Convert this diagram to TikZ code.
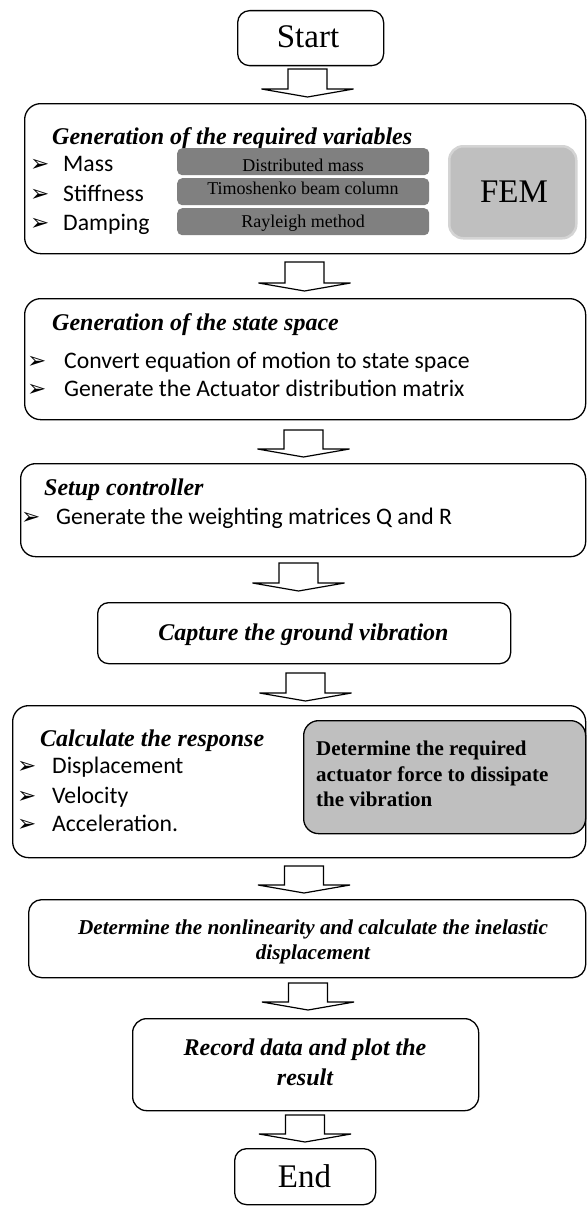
\documentclass[tikz,border=0pt]{standalone}
\usepackage{fontspec}
\setmainfont{Liberation Serif}
\newfontfamily\calfont{Carlito}
\newfontfamily\dvfont{DejaVu Sans}
\usetikzlibrary{calc}
\definecolor{bargray}{HTML}{808080}
\definecolor{boxgray}{HTML}{BFBFBF}
\definecolor{femborder}{HTML}{D4D4D4}
\tikzset{
  box/.style={draw=black, line width=1.3pt, rounded corners=14pt, fill=white, inner sep=0pt, anchor=north west},
  bar/.style={fill=bargray, rounded corners=5pt, inner sep=0pt, anchor=north west, minimum width=252pt, minimum height=27pt},
  bartxt/.style={font=\fontsize{18}{20}\selectfont, inner sep=0pt, anchor=base},
  ttl/.style={font=\fontsize{24}{28}\selectfont\bfseries\itshape, inner sep=0pt, anchor=base west},
  ttlc/.style={font=\fontsize{24}{28}\selectfont\bfseries\itshape, inner sep=0pt, anchor=base},
  ttls/.style={font=\fontsize{21.2}{25}\selectfont\bfseries\itshape, inner sep=0pt, anchor=base},
  itm/.style={font=\fontsize{23.7}{28}\calfont, inner sep=0pt, anchor=base west},
  bul/.style={font=\fontsize{23}{26}\dvfont, inner sep=0pt, anchor=base west},
  gtxt/.style={font=\fontsize{21}{25}\selectfont\bfseries, inner sep=0pt, anchor=base west},
  big/.style={font=\fontsize{33}{36}\selectfont, inner sep=0pt, anchor=base},
  hollow/.style={draw=black, fill=white, line width=1.2pt, line join=miter,
    to path={let \p1=(\tikztostart), \p2=(\tikztotarget) in
      (\x1-19.5pt,\y1) -- (\x1+19.5pt,\y1) -- (\x1+19.5pt,\y2+8pt) -- (\x1+46pt,\y2+8pt)
      -- (\x2,\y2) -- (\x1-46pt,\y2+8pt) -- (\x1-19.5pt,\y2+8pt) -- cycle}},
}
\begin{document}
\begin{tikzpicture}[x=1pt,y=-1pt]
\useasboundingbox (0,0) rectangle (587,1207);
\fill[white] (0,0) rectangle (587,1207);

% boxes
\node[box, rounded corners=12pt, minimum width=146pt, minimum height=55pt] (start) at (237,10) {};
\node[box, rounded corners=16pt, minimum width=561pt, minimum height=150pt] (b2) at (24,103) {};
\node[box, rounded corners=16pt, minimum width=561pt, minimum height=121pt] (b3) at (24,298) {};
\node[box, rounded corners=15pt, minimum width=565pt, minimum height=93pt] (b4) at (20,463) {};
\node[box, rounded corners=11pt, minimum width=413pt, minimum height=61pt] (b5) at (97,602) {};
\node[box, rounded corners=16pt, minimum width=573pt, minimum height=152pt] (b6) at (12,705) {};
\node[box, rounded corners=15pt, fill=boxgray, minimum width=282pt, minimum height=113pt] (gbox) at (303,720) {};
\node[box, rounded corners=13pt, minimum width=557pt, minimum height=78pt] (b7) at (28,899) {};
\node[box, rounded corners=14pt, minimum width=346pt, minimum height=92pt] (b8) at (132,1018) {};
\node[box, rounded corners=12pt, minimum width=141pt, minimum height=56pt] (end) at (234,1148) {};

% start / end
\node[big] (tstart) at (308,48) {Start};
\node[big] (tend) at (304.5,1187) {End};

% box 2
\node[ttl] (t2) at (52,144) {Generation of the required variables};
\node[bul] (u21) at (30,171) {➢};
\node[itm] (i21) at (63,171) {Mass};
\node[bul] (u22) at (30,201) {➢};
\node[itm] (i22) at (63,201) {Stiffness};
\node[bul] (u23) at (30,230) {➢};
\node[itm] (i23) at (63,230) {Damping};
\node[bar] (r1) at (177,148) {};
\node[bar] (r2) at (177,178) {};
\node[bar] (r3) at (177,208) {};
\node[bartxt] (r1t) at (303,171) {Distributed mass};
\node[bartxt] (r2t) at (303,194) {Timoshenko beam column};
\node[bartxt] (r3t) at (303,227) {Rayleigh method};
\node[draw=femborder, fill=boxgray, line width=2.5pt, rounded corners=14pt, inner sep=0pt, anchor=north west, minimum width=127pt, minimum height=92pt] (fem) at (448,145) {};
\node[font=\fontsize{33}{36}\selectfont, inner sep=0pt, anchor=base] (femt) at (514,202) {FEM};

% box 3
\node[ttl] (t3) at (52,330) {Generation of the state space};
\node[bul] (u31) at (27,368) {➢};
\node[itm] (i31) at (64,368) {Convert equation of motion to state space};
\node[bul] (u32) at (27,396) {➢};
\node[itm] (i32) at (64,396) {Generate the Actuator distribution matrix};

% box 4
\node[ttl] (t4) at (44,495) {Setup controller};
\node[bul] (u41) at (21,524) {➢};
\node[itm] (i41) at (56,524) {Generate the weighting matrices Q and R};

% box 5
\node[ttlc] (t5) at (303.5,640) {Capture the ground vibration};

% box 6
\node[ttl] (t6) at (40,746) {Calculate the response};
\node[bul] (u61) at (17,773) {➢};
\node[itm] (i61) at (52,773) {Displacement};
\node[bul] (u62) at (17,803) {➢};
\node[itm] (i62) at (52,803) {Velocity};
\node[bul] (u63) at (17,831) {➢};
\node[itm] (i63) at (52,831) {Acceleration.};
\node[gtxt] (g1) at (316,755) {Determine the required};
\node[gtxt] (g2) at (316,781) {actuator force to dissipate};
\node[gtxt] (g3) at (316,806) {the vibration};

% box 7
\node[ttls] (t7a) at (313,934) {Determine the nonlinearity and calculate the inelastic};
\node[ttls] (t7b) at (313,959) {displacement};

% box 8
\node[ttlc] (t8a) at (305,1055) {Record data and plot the};
\node[ttlc] (t8b) at (305,1085) {result};

% arrow end points
\coordinate (a1s) at (307.5,69);   \coordinate (a1e) at (307.5,97);
\coordinate (a2s) at (304.5,262);  \coordinate (a2e) at (304.5,291);
\coordinate (a3s) at (303.5,430);  \coordinate (a3e) at (303.5,457);
\coordinate (a4s) at (298.5,563);  \coordinate (a4e) at (298.5,591);
\coordinate (a5s) at (305.5,673);  \coordinate (a5e) at (305.5,701);
\coordinate (a6s) at (304,866);    \coordinate (a6e) at (304,893);
\coordinate (a7s) at (308,983);    \coordinate (a7e) at (308,1010);
\coordinate (a8s) at (305,1115);   \coordinate (a8e) at (305,1142);

\draw[hollow] (a1s) to (a1e);
\draw[hollow] (a2s) to (a2e);
\draw[hollow] (a3s) to (a3e);
\draw[hollow] (a4s) to (a4e);
\draw[hollow] (a5s) to (a5e);
\draw[hollow] (a6s) to (a6e);
\draw[hollow] (a7s) to (a7e);
\draw[hollow] (a8s) to (a8e);
\end{tikzpicture}
\end{document}
